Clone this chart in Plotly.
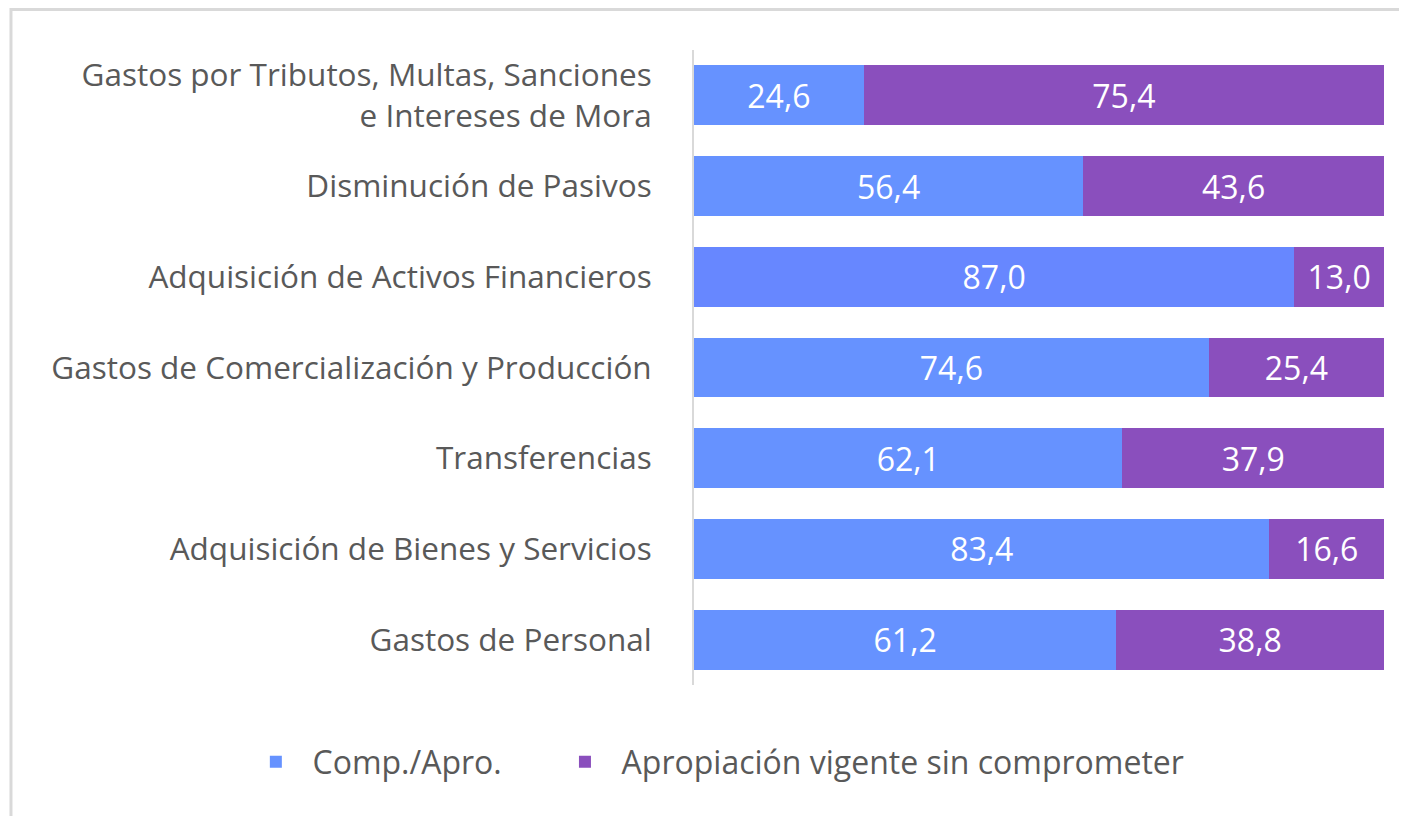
"""
ejecucion_chart.py
──────────────────
Horizontal 100% stacked bars — budget commitment by expense group

Functions:
    build_ejecucion(data)  – stacked bar of Comp./Apro. vs uncommitted share
"""

import plotly.graph_objects as go


DATA = {
    "Categoria": [
        "Gastos de Personal",
        "Adquisición de Bienes y Servicios",
        "Transferencias",
        "Gastos de Comercialización y Producción",
        "Adquisición de Activos Financieros",
        "Disminución de Pasivos",
        "Gastos por Tributos, Multas, Sanciones<br>e Intereses de Mora",
    ],
    "Comp":   [61.2, 83.4, 62.1, 74.6, 87.0, 56.4, 24.6],
    "SinComp": [38.8, 16.6, 37.9, 25.4, 13.0, 43.6, 75.4],
}

BLUE   = "#6692FF"
BLUE_2 = "#6787FF"   # highlighted bar (Activos Financieros)
PURPLE = "#8A4FBD"
FONT   = "Open Sans"


def build_ejecucion(data: dict) -> go.Figure:
    cats   = data["Categoria"]
    blues  = [BLUE_2 if c.startswith("Adquisición de Activos") else BLUE for c in cats]

    fig = go.Figure()
    fig.add_trace(go.Bar(
        y=cats, x=data["Comp"], orientation="h", name="  Comp./Apro.       ",
        marker=dict(color=blues, line=dict(width=0)),
        text=[f"{v:.1f}".replace(".", ",") for v in data["Comp"]],
        textposition="inside", insidetextanchor="middle",
        textfont=dict(color="white", size=32, family=FONT),
    ))
    fig.add_trace(go.Bar(
        y=cats, x=data["SinComp"], orientation="h", name="  Apropiación vigente sin comprometer",
        marker=dict(color=PURPLE, line=dict(width=0)),
        text=[f"{v:.1f}".replace(".", ",") for v in data["SinComp"]],
        textposition="inside", insidetextanchor="middle",
        textfont=dict(color="white", size=32, family=FONT),
    ))

    fig.update_layout(
        barmode="stack", bargap=0.34,
        width=1407, height=816,
        margin=dict(l=686, r=31, t=42, b=139, autoexpand=False),
        paper_bgcolor="white", plot_bgcolor="white",
        font=dict(family=FONT, color="#595959", size=31),
        uniformtext=dict(minsize=26, mode="show"),
        legend=dict(orientation="h", x=-0.635, xanchor="left",
                    y=-0.121, yanchor="middle",
                    font=dict(size=32, color="#595959"), traceorder="normal",
                    itemsizing="constant", itemwidth=30),
        showlegend=True,
    )
    fig.update_xaxes(range=[0, 100], visible=False, fixedrange=True)
    fig.update_yaxes(showline=True, linecolor="#D9D9D9", linewidth=2, ticks="",
                     ticklabelstandoff=34, showgrid=False, zeroline=False,
                     tickfont=dict(size=31.5, color="#595959"))

    # outer chart frame (Excel-style border)
    fig.add_shape(type="rect", xref="paper", yref="paper",
                  x0=-0.9899, x1=1.2, y0=-0.3, y1=1.0638,
                  line=dict(color="#D9D9D9", width=3), fillcolor="rgba(0,0,0,0)", layer="below")
    return fig


fig = build_ejecucion(DATA)
fig.write_html("out.html")
